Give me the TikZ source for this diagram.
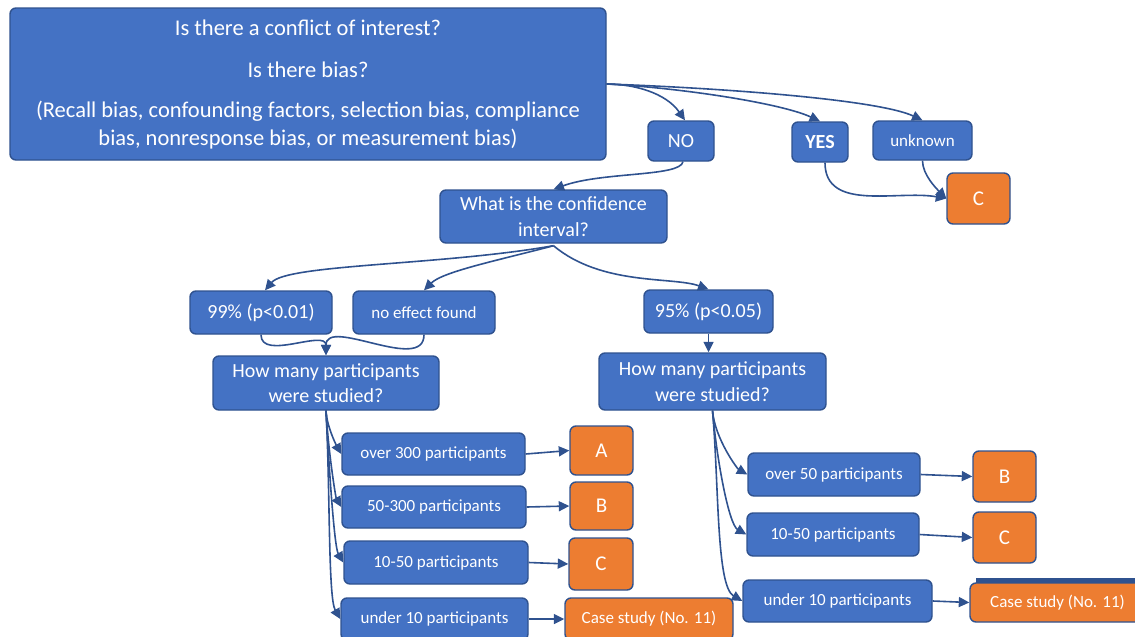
\documentclass[tikz,border=0pt]{standalone}
\usepackage{fontspec}
\setmainfont{Carlito}
\usetikzlibrary{arrows.meta}
\definecolor{boxblue}{HTML}{4472C4}
\definecolor{edgeblue}{HTML}{2F528F}
\definecolor{boxorange}{HTML}{ED7D31}
\newcommand\txtbig{\fontsize{22.5}{28}\selectfont}
\newcommand\txtmid{\fontsize{20}{25.5}\selectfont}
\newcommand\txtsmall{\fontsize{17}{21}\selectfont}
\newcommand\txtres{\fontsize{21}{25}\selectfont}
\begin{document}
\begin{tikzpicture}[x=1pt,y=-1pt,
  card/.style={draw=edgeblue, line width=1.4pt, rounded corners=6pt,
    text=white, inner sep=0pt, align=center},
  qbox/.style={card, fill=boxblue},
  rbox/.style={card, fill=boxorange},
  link/.style={draw=edgeblue, line width=1.6pt,
    -{Triangle[length=10.5pt,width=10pt]}},
  dropL/.style={link, out=-87, in=120, out looseness=1, in looseness=0.3},
  dropR/.style={link, out=-85, in=150, out looseness=1, in looseness=0.4},
]
\useasboundingbox (0,0) rectangle (1135,637);

% question at the top
\node[qbox, minimum width=596, minimum height=152, font=\txtbig] (top) at (308,84)
  {Is there a conflict of interest?\\[14pt]
   Is there bias?\\[12pt]
   (Recall bias, confounding factors, selection bias, compliance\\
   bias, nonresponse bias, or measurement bias)};

% answers to the first question
\node[qbox, minimum width=66, minimum height=40, font=\txtmid] (no) at (681,141) {NO};
\node[qbox, minimum width=56, minimum height=40, font=\txtmid\bfseries] (yes) at (820,142) {YES};
\node[qbox, minimum width=99, minimum height=39, font=\txtsmall] (unknown) at (922.5,140.5) {unknown};
\node[rbox, minimum width=63, minimum height=51, font=\txtres] (ctop) at (978.5,198.5) {C};

% confidence interval
\node[qbox, minimum width=227, minimum height=53, font=\txtmid] (conf) at (553.5,216.5)
  {What is the confidence\\interval?};
\node[qbox, minimum width=142, minimum height=43, font=\txtmid] (p99) at (261,312.5) {99\% (p<0.01)};
\node[qbox, minimum width=142, minimum height=43, font=\txtsmall] (noeff) at (424,312.5) {no effect found};
\node[qbox, minimum width=129, minimum height=43, font=\txtmid] (p95) at (708.5,311.5) {95\% (p<0.05)};

% number of participants
\node[qbox, minimum width=226, minimum height=54, font=\txtmid] (hmL) at (326,383)
  {How many participants\\were studied?};
\node[qbox, minimum width=227, minimum height=57, font=\txtmid] (hmR) at (712.5,381.5)
  {How many participants\\were studied?};

% left branch
\node[qbox, minimum width=183, minimum height=42, font=\txtsmall] (oL1) at (433.5,454) {over 300 participants};
\node[qbox, minimum width=184, minimum height=42, font=\txtsmall] (oL2) at (434,507) {50-300 participants};
\node[qbox, minimum width=184, minimum height=43, font=\txtsmall] (oL3) at (436,562.5) {10-50 participants};
\node[qbox, minimum width=187, minimum height=42, font=\txtsmall] (oL4) at (434.5,619) {under 10 participants};
\node[rbox, minimum width=63, minimum height=49, font=\txtres] (rA) at (601.5,450.5) {A};
\node[rbox, minimum width=63, minimum height=48, font=\txtres] (rB) at (601.5,506) {B};
\node[rbox, minimum width=64, minimum height=52, font=\txtres] (rC) at (601,564) {C};
\node[rbox, minimum width=168, minimum height=42, font=\txtsmall] (rCase) at (649,619) {Case study (No. 11)};

% right branch
\node[qbox, minimum width=172, minimum height=43, font=\txtsmall] (oR1) at (834,474.5) {over 50 participants};
\node[qbox, minimum width=172, minimum height=43, font=\txtsmall] (oR2) at (833,534.5) {10-50 participants};
\node[qbox, minimum width=189, minimum height=42, font=\txtsmall] (oR3) at (837.5,601) {under 10 participants};
\node[rbox, minimum width=63, minimum height=51, font=\txtres] (rB2) at (1004.5,476.5) {B};
\node[rbox, minimum width=63, minimum height=51, font=\txtres] (rC2) at (1004.5,537.5) {C};
\fill[edgeblue] (976,578) rectangle (1150,592);
\node[rbox, minimum width=175, minimum height=39, font=\txtsmall] (rCase2) at (1057.5,602.5) {Case study (No. 11)};

% connectors from the first question
\draw[link] (top.east) to[out=0,in=125,out looseness=0.8] ([xshift=4pt]no.north);
\draw[link] (top.east) to[out=-3,in=155,out looseness=0.9,in looseness=0.5] (yes.north);
\draw[link] (top.east) to[out=-2,in=155,out looseness=0.9,in looseness=0.4] (unknown.north);
\draw[link] ([xshift=5pt]yes.south) to[out=-90,in=170] (ctop.west);
\draw[link] (unknown.south) to[out=-90,in=135,looseness=0.8] (ctop.west);
\draw[link] ([xshift=2pt]no.south) to[out=-100,in=20,out looseness=0.3] (conf.north);

% connectors from the confidence interval
\draw[link] ([yshift=-2pt]conf.south) to[out=-170,in=50,out looseness=1,in looseness=0.3] ([xshift=4pt]p99.north);
\draw[link] ([yshift=-2pt]conf.south) to[out=-165,in=45,out looseness=1,in looseness=0.5] (noeff.north);
\draw[link] ([yshift=-2pt]conf.south) to[out=-40,in=160,out looseness=1,in looseness=0.6] (p95.north);

\draw[link] (p99.south) to[out=-90,in=90] (hmL.north);
\draw[link] (noeff.south) to[out=-90,in=90] (hmL.north);
\draw[link] (p95.south) -- (p95.south |- hmR.north);

% participant ranges
\draw[dropL] (hmL.south) to (oL1.west);
\draw[dropL] (hmL.south) to (oL2.west);
\draw[dropL] (hmL.south) to (oL3.west);
\draw[dropL] (hmL.south) to (oL4.west);
\draw[dropR] (hmR.south) to (oR1.west);
\draw[dropR] (hmR.south) to (oR2.west);
\draw[dropR] (hmR.south) to (oR3.west);

% grades
\draw[link] (oL1.east) -- (rA.west);
\draw[link] (oL2.east) -- (rB.west);
\draw[link] (oL3.east) -- (rC.west);
\draw[link] (oL4.east) -- (rCase.west);
\draw[link] (oR1.east) -- (rB2.west);
\draw[link] (oR2.east) -- (rC2.west);
\draw[link] (oR3.east) -- (rCase2.west);
\end{tikzpicture}
\end{document}
